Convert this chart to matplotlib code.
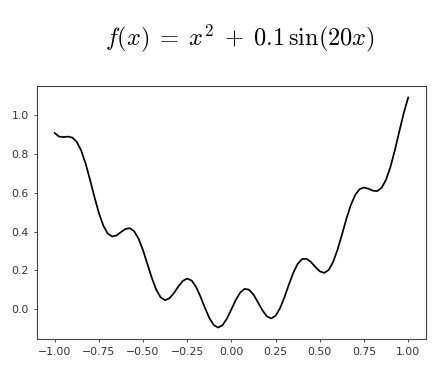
import matplotlib
matplotlib.use("Agg")
import matplotlib.pyplot as plt

plt.rcParams['mathtext.fontset'] = 'cm'

# x positions (step 0.025) and values
x_vals = [round(-1 + 0.025 * i, 3) for i in range(81)]
y_neg = [0.9087, 0.8901, 0.8875, 0.8899, 0.8851, 0.8632, 0.8186, 0.7518, 0.6688, 0.5800,
         0.4975, 0.4321, 0.3909, 0.3752, 0.3805, 0.3973, 0.4137, 0.4182, 0.4025, 0.3636,
         0.3044, 0.2331, 0.1613, 0.1008, 0.0611, 0.0468, 0.0568, 0.0841, 0.1179, 0.1462,
         0.1584, 0.1484, 0.1157, 0.0657, 0.0084, -0.0442, -0.0809, -0.0941, -0.0817, -0.0473]
y_zero = [0.0]
y_pos = [0.0486, 0.0867, 0.1054, 0.1009, 0.0755, 0.0366, -0.0045, -0.0357, -0.0471, -0.0334,
         0.0051, 0.0621, 0.1271, 0.1882, 0.2344, 0.2589, 0.2605, 0.2437, 0.2181, 0.1956,
         0.1877, 0.2025, 0.2431, 0.3063, 0.3840, 0.4645, 0.5360, 0.5891, 0.6191, 0.6275,
         0.6213, 0.6112, 0.6094, 0.6264, 0.6681, 0.7349, 0.8214, 0.9175, 1.0112, 1.0913]
y_vals = y_neg + y_zero + y_pos

x_ticks = [-1.0, -0.75, -0.5, -0.25, 0.0, 0.25, 0.5, 0.75, 1.0]
y_ticks = [0.0, 0.2, 0.4, 0.6, 0.8, 1.0]

fig = plt.figure(figsize=(4.45, 3.84), dpi=100)
ax = fig.add_axes([0.083, 0.117, 0.874, 0.659])
ax.plot(x_vals, y_vals, color='black', lw=1.25)
ax.set_xticks(x_ticks)
ax.set_xticklabels([f"{t:.2f}".replace('-', '\u2212') for t in x_ticks])
ax.set_yticks(y_ticks)
ax.set_yticklabels([f"{t:.1f}" for t in y_ticks])
ax.tick_params(labelsize=7.8, length=2.5, width=0.6, colors='#333333')
for s in ax.spines.values():
    s.set_linewidth(0.8)
    s.set_color('#444444')
fig.text(0.54, 0.90, r'$f(x)\;=\;x^2\;+\;0.1\,\sin(20x)$', fontsize=17.5, ha='center', va='center')
fig.savefig('out.png', dpi=100)
